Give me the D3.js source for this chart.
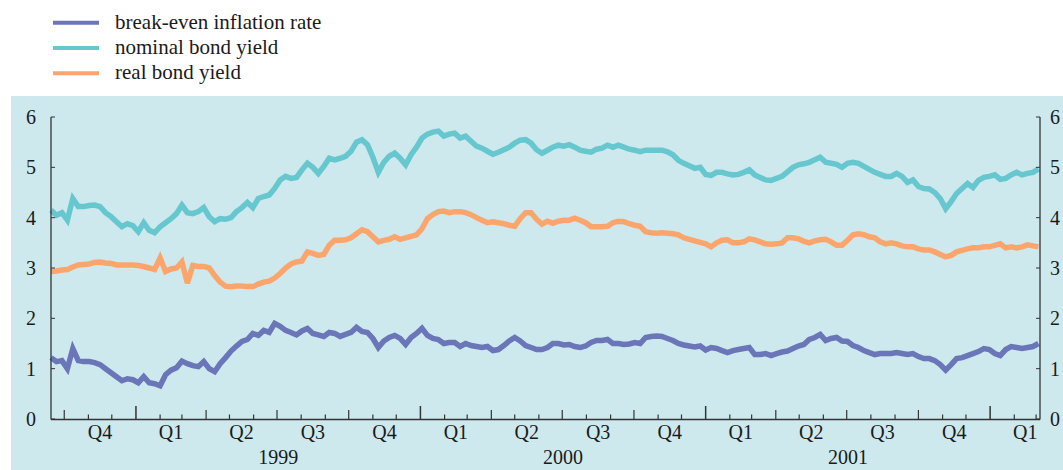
<!DOCTYPE html>
<html>
<head>
<meta charset="utf-8">
<script src="https://cdn.jsdelivr.net/npm/d3@7"></script>
<style>
  body { margin: 0; background: #fff; }
  svg text { font-family: "Liberation Serif", "Times New Roman", Times, serif; fill: #1a1a1a; }
</style>
</head>
<body>
<svg id="chart" width="1063" height="470" font-family="Liberation Serif, Times New Roman, serif"></svg>
<script>
// weekly observations (Mondays), from mid-September 1998 to early March 2002
const firstWeek = new Date(1998, 8, 14);
const lastWeek = new Date(2002, 2, 4);

const seriesNames = ["break-even inflation rate", "nominal bond yield", "real bond yield"];
const seriesColors = ["#6a76b8", "#66c7cf", "#fba56c"];

const breakEven = [
  1.22, 1.14, 1.16, 1.0, 1.4, 1.16, 1.14, 1.14, 1.12, 1.08,
  1.0, 0.92, 0.84, 0.76, 0.8, 0.78, 0.72, 0.84, 0.72, 0.7,
  0.66, 0.88, 0.97, 1.02, 1.15, 1.1, 1.06, 1.04, 1.14, 1.0,
  0.94, 1.1, 1.22, 1.35, 1.45, 1.54, 1.58, 1.7, 1.66, 1.76,
  1.72, 1.9, 1.84, 1.76, 1.72, 1.67, 1.75, 1.8, 1.7, 1.67,
  1.64, 1.72, 1.7, 1.64, 1.68, 1.72, 1.82, 1.74, 1.72, 1.6,
  1.42, 1.55, 1.62, 1.66, 1.6, 1.48, 1.62, 1.7, 1.8, 1.66,
  1.6, 1.58, 1.5, 1.52, 1.52, 1.44, 1.5, 1.46, 1.44, 1.42,
  1.44, 1.36, 1.38, 1.46, 1.55, 1.62, 1.55, 1.46, 1.42, 1.38,
  1.38, 1.42, 1.5, 1.5, 1.47, 1.48, 1.44, 1.42, 1.45, 1.52,
  1.56, 1.56, 1.58, 1.5, 1.5, 1.48, 1.49, 1.52, 1.5, 1.62,
  1.64, 1.65, 1.64, 1.6, 1.56, 1.5, 1.47, 1.45, 1.43, 1.45,
  1.37, 1.42, 1.4, 1.36, 1.32, 1.36, 1.38, 1.4, 1.42, 1.28,
  1.28, 1.3, 1.26, 1.3, 1.33, 1.35, 1.4, 1.45, 1.48, 1.58,
  1.62, 1.68, 1.56, 1.6, 1.62, 1.55, 1.54, 1.46, 1.42, 1.36,
  1.32, 1.28, 1.3, 1.3, 1.3, 1.32, 1.3, 1.28, 1.3, 1.24,
  1.2, 1.2, 1.16, 1.08, 0.97, 1.08, 1.2, 1.22, 1.26, 1.3,
  1.34, 1.4, 1.38, 1.3, 1.26, 1.38, 1.44, 1.42, 1.4, 1.42,
  1.44, 1.5
];

const nominalYield = [
  4.15, 4.05, 4.1, 3.95, 4.38, 4.22, 4.22, 4.24, 4.25, 4.22,
  4.1, 4.02, 3.92, 3.82, 3.88, 3.84, 3.72, 3.9, 3.75, 3.7,
  3.82, 3.9, 3.98, 4.08, 4.25, 4.1, 4.08, 4.12, 4.2, 4.02,
  3.92, 3.98, 3.97, 4.0, 4.12, 4.2, 4.3, 4.2, 4.38, 4.42,
  4.45, 4.58, 4.75, 4.82, 4.78, 4.8, 4.95, 5.08, 5.0, 4.88,
  5.02, 5.18, 5.15, 5.18, 5.22, 5.32, 5.5, 5.55, 5.45, 5.2,
  4.9, 5.1, 5.22, 5.28, 5.18, 5.05, 5.25, 5.4, 5.58, 5.66,
  5.7, 5.72, 5.62, 5.66, 5.68, 5.58, 5.62, 5.52, 5.42, 5.38,
  5.32, 5.26, 5.3, 5.35, 5.4, 5.48, 5.54, 5.55, 5.48, 5.35,
  5.28, 5.34, 5.4, 5.44, 5.42, 5.45, 5.4, 5.34, 5.32, 5.3,
  5.36, 5.38, 5.44, 5.4, 5.44, 5.4, 5.36, 5.34, 5.31, 5.34,
  5.34, 5.34, 5.34, 5.31, 5.25, 5.14, 5.08, 5.03, 4.98, 5.0,
  4.86, 4.84, 4.9, 4.9, 4.87, 4.85, 4.86, 4.9, 4.95, 4.85,
  4.8, 4.75, 4.74, 4.78, 4.82, 4.91, 5.0, 5.05, 5.07, 5.1,
  5.15, 5.2, 5.1, 5.08, 5.06, 5.0, 5.08, 5.1, 5.08, 5.02,
  4.96, 4.9, 4.86, 4.82, 4.82, 4.88, 4.82, 4.7, 4.75, 4.62,
  4.58, 4.57, 4.5, 4.38, 4.18, 4.32, 4.48, 4.58, 4.68, 4.6,
  4.74, 4.8, 4.82, 4.85, 4.76, 4.78, 4.85, 4.9, 4.85, 4.88,
  4.9, 4.97
];

const realYield = [
  2.93, 2.94, 2.96, 2.97, 3.02, 3.06, 3.07, 3.08, 3.11, 3.12,
  3.1, 3.09, 3.06, 3.06, 3.06, 3.06, 3.05, 3.03, 3.0, 2.97,
  3.2, 2.93, 2.98, 3.0, 3.12, 2.7, 3.05, 3.03, 3.03, 3.0,
  2.85, 2.72, 2.64, 2.63, 2.64, 2.64, 2.63, 2.63, 2.68, 2.72,
  2.74, 2.8, 2.89, 3.0, 3.08, 3.12, 3.14, 3.32, 3.29, 3.25,
  3.27, 3.45, 3.55, 3.55, 3.56, 3.6, 3.68, 3.76, 3.72, 3.62,
  3.52, 3.55, 3.57, 3.62, 3.57, 3.6, 3.63, 3.66, 3.78, 3.98,
  4.06, 4.12, 4.13, 4.1, 4.12, 4.12, 4.1, 4.06, 4.0, 3.95,
  3.9, 3.92, 3.9, 3.88, 3.85, 3.83, 3.98, 4.1, 4.1, 3.97,
  3.87, 3.93, 3.89, 3.93, 3.95, 3.95, 3.99, 3.95, 3.9, 3.82,
  3.82, 3.82, 3.83, 3.9, 3.93, 3.92, 3.88, 3.85, 3.83, 3.72,
  3.7, 3.69, 3.7, 3.69, 3.68, 3.66, 3.6, 3.57, 3.54, 3.51,
  3.48, 3.42, 3.5, 3.55, 3.56, 3.5, 3.5, 3.52, 3.58, 3.56,
  3.52, 3.48, 3.47, 3.48, 3.5, 3.6, 3.6, 3.58, 3.53, 3.5,
  3.54, 3.56, 3.57, 3.52, 3.45, 3.45, 3.55, 3.66, 3.68, 3.66,
  3.62, 3.6, 3.52, 3.48, 3.5, 3.48, 3.44, 3.42, 3.42, 3.38,
  3.36, 3.36, 3.32, 3.27, 3.22, 3.25, 3.32, 3.35, 3.38, 3.4,
  3.4, 3.42, 3.42, 3.45, 3.48, 3.4, 3.42, 3.4, 3.42, 3.46,
  3.44, 3.42
];

const yTicks = [0, 1, 2, 3, 4, 5, 6];
const years = [1999, 2000, 2001];

const serif = "Liberation Serif, Times New Roman, serif";
const svg = d3.select("#chart");

const dates = d3.timeMonday.range(firstWeek, d3.timeDay.offset(lastWeek, 1));

const x = d3.scaleTime()
  .domain([new Date(1998, 8, 14), new Date(2002, 2, 6)])
  .range([51, 1040]);
const y = d3.scaleLinear().domain([0, 6]).range([419, 117]);

// background panel
svg.append("rect")
  .attr("x", 11).attr("y", 96)
  .attr("width", 1052).attr("height", 374)
  .attr("fill", "#cde9ee");

// legend
const legend = svg.append("g");
seriesNames.forEach((name, i) => {
  const ly = 22.7 + i * 25.3;
  legend.append("line")
    .attr("x1", 53).attr("x2", 99)
    .attr("y1", ly).attr("y2", ly)
    .attr("stroke", seriesColors[i])
    .attr("stroke-width", 4);
  legend.append("text")
    .attr("x", 115).attr("y", ly + 5.8)
    .attr("font-family", serif)
    .style("font-size", "21px")
    .text(name);
});

// series
const line = d3.line()
  .x((d, i) => x(dates[i]))
  .y(d => y(d));

[breakEven, nominalYield, realYield].forEach((values, i) => {
  svg.append("path")
    .datum(values)
    .attr("fill", "none")
    .attr("stroke", seriesColors[i])
    .attr("stroke-width", 5.5)
    .attr("stroke-linejoin", "miter")
    .attr("stroke-miterlimit", 3)
    .attr("d", line);
});

// axes
const axisColor = "#333";
svg.append("line")
  .attr("x1", 51).attr("x2", 1040).attr("y1", 419.5).attr("y2", 419.5)
  .attr("stroke", axisColor).attr("stroke-width", 1.3);
svg.append("line")
  .attr("x1", 51).attr("x2", 51).attr("y1", y(6)).attr("y2", 419.5)
  .attr("stroke", axisColor).attr("stroke-width", 1.3);
svg.append("line")
  .attr("x1", 1040).attr("x2", 1040).attr("y1", y(6)).attr("y2", 419.5)
  .attr("stroke", axisColor).attr("stroke-width", 1.3);

const yt = svg.append("g");
yTicks.forEach(t => {
  yt.append("line")
    .attr("x1", 51).attr("x2", 55).attr("y1", y(t)).attr("y2", y(t))
    .attr("stroke", axisColor);
  yt.append("line")
    .attr("x1", 1036).attr("x2", 1040).attr("y1", y(t)).attr("y2", y(t))
    .attr("stroke", axisColor);
  yt.append("text")
    .attr("x", 36).attr("y", y(t)).attr("dy", "0.35em")
    .attr("text-anchor", "end")
    .attr("font-family", serif)
    .style("font-size", "20px")
    .text(t);
  yt.append("text")
    .attr("x", 1050).attr("y", y(t)).attr("dy", "0.35em")
    .attr("font-family", serif)
    .style("font-size", "20px")
    .text(t);
});

// month ticks: longer for quarters, longest for years
const months = d3.timeMonth.range(x.domain()[0], x.domain()[1]);
svg.append("g").selectAll("line")
  .data(months)
  .join("line")
  .attr("x1", d => x(d)).attr("x2", d => x(d))
  .attr("y1", 419)
  .attr("y2", d => d.getMonth() === 0 ? 406 : d.getMonth() % 3 === 0 ? 410 : 414.5)
  .attr("stroke", axisColor)
  .attr("stroke-width", d => d.getMonth() === 0 ? 1.5 : 1.2);

// quarter labels
const quarters = d3.timeMonth.every(3).range(new Date(1998, 9, 1), new Date(2002, 3, 1));
svg.append("g").selectAll("text")
  .data(quarters)
  .join("text")
  .attr("x", d => x(new Date((+d + +d3.timeMonth.offset(d, 3)) / 2)))
  .attr("y", 439)
  .attr("text-anchor", "middle")
  .attr("font-family", serif)
  .style("font-size", "20px")
  .text(d => "Q" + (Math.floor(d.getMonth() / 3) + 1));

// year labels
svg.append("g").selectAll("text")
  .data(years)
  .join("text")
  .attr("x", d => x(new Date((+new Date(d, 0, 1) + +new Date(d + 1, 0, 1)) / 2)))
  .attr("y", 464)
  .attr("text-anchor", "middle")
  .attr("font-family", serif)
  .style("font-size", "20px")
  .text(d => d);
</script>
</body>
</html>
